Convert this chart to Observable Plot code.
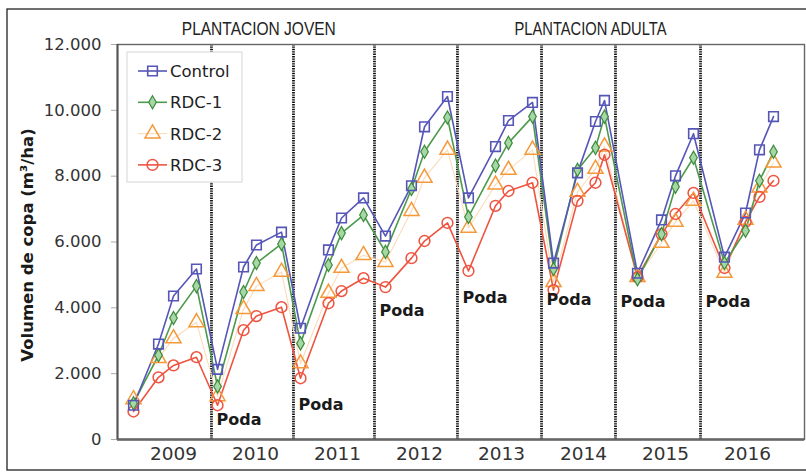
<!DOCTYPE html>
<html><head><meta charset="utf-8">
<script src="https://cdn.jsdelivr.net/npm/d3@7"></script>
<script src="https://cdn.jsdelivr.net/npm/@observablehq/plot@0.6"></script>
<style>
body{margin:0;background:#fff}
#chart{position:relative;width:806px;height:473px}
</style>
</head><body><div id="chart"></div>
<script>
// measurement times (decimal years)
const t = [2009.012, 2009.317, 2009.500, 2009.780,
           2010.037, 2010.354, 2010.512, 2010.817,
           2011.049, 2011.390, 2011.549, 2011.817,
           2012.085, 2012.402, 2012.561, 2012.841,
           2013.097, 2013.427, 2013.585, 2013.878,
           2014.134, 2014.427, 2014.646, 2014.756,
           2015.158, 2015.451, 2015.622, 2015.841,
           2016.219, 2016.476, 2016.646, 2016.817];
const control = [1040, 2900, 4360, 5180, 2130, 5240, 5910, 6300, 3380, 5760, 6730, 7340,
                 6180, 7710, 9500, 10420, 7340, 8900, 9690, 10240, 5360, 8100, 9660, 10300,
                 5050, 6670, 8010, 9290, 5540, 6880, 8800, 9810];
const rdc1 = [1100, 2560, 3690, 4660, 1610, 4480, 5360, 5940, 2920, 5300, 6270, 6820,
              5700, 7610, 8740, 9780, 6760, 8320, 9010, 9810, 5180, 8190, 8860, 9810,
              4870, 6240, 7680, 8560, 5360, 6340, 7860, 8740];
const rdc2 = [1220, 2470, 3070, 3560, 1310, 3960, 4660, 5090, 2310, 4450, 5210, 5600,
              5390, 6940, 7950, 8800, 6430, 7740, 8190, 8800, 4780, 7520, 8220, 8900,
              4930, 5970, 6610, 7250, 5060, 6670, 7650, 8410];
const rdc3 = [850, 1890, 2250, 2500, 1040, 3320, 3750, 4020, 1860, 4140, 4510, 4900,
              4630, 5510, 6030, 6580, 5120, 7100, 7550, 7800, 4540, 7250, 7800, 8650,
              4930, 6240, 6850, 7490, 5210, 6610, 7370, 7860];
const seriesNames = ["Control", "RDC-1", "RDC-2", "RDC-3"];
const years = [2009, 2010, 2011, 2012, 2013, 2014, 2015, 2016];
const yTicks = [0, 2000, 4000, 6000, 8000, 10000, 12000];
// pruning (Poda) events
const podaT = [2009.963, 2010.963, 2011.951, 2012.963, 2013.988, 2014.890, 2015.927];
const podaY = [610, 1040, 3900, 4300, 4230, 4170, 4170];
const headers = ["PLANTACION JOVEN", "PLANTACION ADULTA"];
const headerT = [2010.54, 2014.585];
const yLabel = "Volumen de copa (m³/ha)";

const styles = [
  {stroke:"#5656b8", line:"#5656b8", lw:1.6, symbol:"square", r:5.4, fill:"none", sw:1.6},
  {stroke:"#3d8a3d", line:"#4c9a4c", lw:1.6, symbol:"diamond", r:4.0, fill:"#a6d8a6", sw:1.2},
  {stroke:"#f5993a", line:"#fbdcb9", lw:1.1, symbol:"triangle", r:5.6, fill:"none", sw:1.5},
  {stroke:"#ee5440", line:"#ee5440", lw:1.6, symbol:"circle", r:5.4, fill:"none", sw:1.5}
];
const vals = [control, rdc1, rdc2, rdc3];
const table = seriesNames.map((name, k) => t.map((x, i) => ({serie: name, t: x, v: vals[k][i]})));

const fmt = d => d3.format(",")(d).replace(/,/g, ".");
const x0 = 2008.817, x1 = 2017.195;

const marks = [
  Plot.ruleX(podaT, {stroke:"#111", strokeWidth:2.8, strokeDasharray:"1.4,1"}),
];
[2, 3, 1, 0].forEach(k => {
  const s = styles[k];
  marks.push(Plot.line(table[k], {x:"t", y:"v", stroke:s.line, strokeWidth:s.lw}));
});
[2, 3, 1, 0].forEach(k => {
  const s = styles[k];
  marks.push(Plot.dot(table[k], {x:"t", y:"v", symbol:()=>s.symbol, r:s.r, stroke:s.stroke, fill:s.fill, strokeWidth:s.sw}));
});
marks.push(
  Plot.text(podaT, {x:d=>d, y:(d,i)=>podaY[i], text:()=>"Poda", textAnchor:"start", dx:5,
    fontWeight:"bold", fontSize:16, fill:"#1a1a1a"}),
  Plot.text(headers, {x:(d,i)=>headerT[i], text:d=>d, frameAnchor:"top", dy:-22,
    fontFamily:"'Liberation Sans',sans-serif", fontSize:17.5, fill:"#222"}),
  Plot.text([yLabel], {frameAnchor:"left", dx:-90, dy:3, rotate:-90, textAnchor:"middle", text:d=>d,
    fontWeight:"bold", fontSize:16.5, fill:"#1a1a1a"}),
  Plot.axisY({ticks:yTicks, tickFormat:fmt, tickSize:6, tickPadding:10, stroke:"#aaa", fill:"#333"}),
  Plot.axisX({ticks:years.map(y => y + 0.5), tickFormat:d => String(Math.floor(d)), tickSize:0, tickPadding:7, fill:"#333"}),
  Plot.frame({stroke:"#666", strokeWidth:1.4}),
  Plot.ruleY([0], {stroke:"#666", strokeWidth:2.6}),
  Plot.ruleX([x0], {stroke:"#555", strokeWidth:2})
);

const chart = Plot.plot({
  width: 806, height: 473,
  marginLeft: 117, marginRight: 2, marginTop: 44, marginBottom: 34,
  x: {domain: [x0, x1], label: null},
  y: {domain: [0, 12000], label: null},
  style: {fontSize: "16px", fontFamily: "'DejaVu Sans', sans-serif", background: "#fff"},
  marks
});
document.getElementById("chart").appendChild(chart);

const svg = d3.select(chart);
const yLabels = new Set(yTicks.map(fmt));
const xLabels = new Set(years.map(String));
svg.selectAll("text").each(function() {
  const s = this.textContent;
  const el = d3.select(this);
  // condense the header text to match the narrow face of the original
  if (s === headers[0]) el.attr("textLength", 154).attr("lengthAdjust", "spacingAndGlyphs");
  if (s === headers[1]) el.attr("textLength", 152).attr("lengthAdjust", "spacingAndGlyphs");
  if (yLabels.has(s)) el.style("font-size", "16.5px");
  if (xLabels.has(s)) el.style("font-size", "18.5px");
});

// outer figure border
svg.append("rect").attr("x", 7).attr("y", 9).attr("width", 820).attr("height", 461)
  .attr("fill", "none").attr("stroke", "#222").attr("stroke-width", 1.3);

// legend
const lg = svg.append("g").attr("transform", "translate(127,52)");
lg.append("rect").attr("width", 115).attr("height", 130).attr("fill", "#fff").attr("stroke", "#ddd").attr("stroke-width", 1.2);
const symPath = {
  square: d3.symbol(d3.symbolSquare, Math.PI * 5.4 * 5.4)(),
  diamond: d3.symbol(d3.symbolDiamond, Math.PI * 4.0 * 4.0)(),
  triangle: d3.symbol(d3.symbolTriangle, Math.PI * 5.6 * 5.6)(),
  circle: d3.symbol(d3.symbolCircle, Math.PI * 5.4 * 5.4)()
};
seriesNames.forEach((name, k) => {
  const s = styles[k];
  const gy = 19 + k * 31.3;
  const g = lg.append("g").attr("transform", `translate(0,${gy})`);
  g.append("line").attr("x1", 11).attr("x2", 40).attr("stroke", s.line).attr("stroke-width", s.lw);
  g.append("path").attr("d", symPath[s.symbol]).attr("transform", "translate(25.5,0)")
    .attr("fill", s.fill).attr("stroke", s.stroke).attr("stroke-width", s.sw);
  g.append("text").attr("x", 43).attr("dy", "0.36em").attr("text-anchor", "start")
    .attr("font-size", 16.5).attr("fill", "#222").text(name);
});
</script>
</body></html>
